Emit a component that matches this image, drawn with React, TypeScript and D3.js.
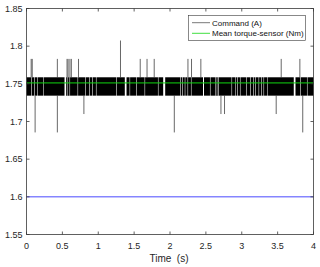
import * as d3 from 'd3';
import React from 'react';

// time axis (s) and value axis
const xTicks = [0, 0.5, 1, 1.5, 2, 2.5, 3, 3.5, 4];
const yTicks = [1.55, 1.6, 1.65, 1.7, 1.75, 1.8, 1.85];

// quantised command signal: it toggles between these two levels
const bandLow = 1.7343;
const bandHigh = 1.7587;
// short stretches where the command stays put (start, end in s)
const bandGaps: [number, number][] = [
  [0.066, 0.073], [0.107, 0.114], [0.153, 0.16], [0.236, 0.243],
  [0.53, 0.553], [0.572, 0.579], [0.6, 0.607], [0.712, 0.719],
  [0.819, 0.826], [0.875, 0.882], [0.917, 0.924], [0.968, 0.975],
  [1.251, 1.258], [1.37, 1.394], [1.437, 1.444], [1.53, 1.537],
  [1.646, 1.653], [1.832, 1.839], [1.905, 1.933], [2.143, 2.15],
  [2.171, 2.178], [2.206, 2.213], [2.245, 2.252], [2.292, 2.299],
  [2.46, 2.474], [2.557, 2.564], [2.627, 2.634], [2.652, 2.659],
  [2.673, 2.68], [2.858, 2.865], [2.906, 2.913], [2.938, 2.945],
  [2.975, 2.982], [3.063, 3.07], [3.119, 3.126], [3.161, 3.168],
  [3.189, 3.196], [3.235, 3.242], [3.272, 3.279], [3.304, 3.311],
  [3.352, 3.359], [3.725, 3.749], [3.816, 3.823], [3.909, 3.916],
];
// single-sample excursions of the command [time, value]
const spikesUp: [number, number][] = [
  [0.065, 1.7831], [0.08, 1.7831], [0.43, 1.7831], [0.565, 1.7831],
  [0.58, 1.7831], [0.605, 1.7831], [0.625, 1.7831], [0.725, 1.7831],
  [1.31, 1.8075], [1.585, 1.7831], [1.68, 1.7831], [1.78, 1.7831],
  [2.25, 1.7831], [2.3, 1.7831], [2.43, 1.7831], [3.55, 1.7831],
  [3.81, 1.7831],
];
const spikesDown: [number, number][] = [
  [0.12, 1.6855], [0.43, 1.6855], [0.8, 1.7099], [2.06, 1.6855],
  [2.71, 1.7099], [2.76, 1.7099], [3.48, 1.7099], [3.85, 1.6855],
];

const meanTorque = [[0, 1.7512], [4, 1.7512]];
const reference = [[0, 1.6], [4, 1.6]];

const legendLabels = ['Command (A)', 'Mean torque-sensor (Nm)'];

export default function App() {
  const width = 320, height = 267;
  const x = d3.scaleLinear().domain([0, 4]).range([26.5, 313.5]);
  const y = d3.scaleLinear().domain([1.55, 1.85]).range([234.5, 8.5]);
  const axisColor = '#3a3a3a';
  const font = 'Arial, "Liberation Sans", Helvetica, sans-serif';

  // band pieces between the gaps
  const edges = [0, ...bandGaps.flat(), 4];
  const pieces: [number, number][] = [];
  for (let i = 0; i < edges.length; i += 2) pieces.push([edges[i], edges[i + 1]]);
  const band = d3.area<number>()
    .x(d => x(d))
    .y0(y(bandLow))
    .y1(y(bandHigh));

  const line = d3.line<number[]>().x(d => x(d[0])).y(d => y(d[1]));

  return (
    <svg width={width} height={height} style={{ position: 'absolute', left: 0, top: 0, background: '#fff' }}>
      <rect x={0} y={0} width={width} height={height} fill="#fff" />

      {/* command */}
      {pieces.map((p, i) => (
        <path key={'b' + i} d={band(p) || ''} fill="#000" />
      ))}
      {spikesUp.map((s, i) => (
        <path key={'u' + i} d={line([[s[0], bandHigh], s]) || ''} stroke="#000" strokeWidth={0.6} fill="none" />
      ))}
      {spikesDown.map((s, i) => (
        <path key={'d' + i} d={line([[s[0], bandLow], s]) || ''} stroke="#000" strokeWidth={0.6} fill="none" />
      ))}

      {/* mean torque and reference */}
      <path d={line(meanTorque) || ''} stroke="#10d810" strokeWidth={1} fill="none" />
      <path d={line(reference) || ''} stroke="#4a4aff" strokeWidth={1} fill="none" />

      {/* axes box */}
      <rect x={26.5} y={8.5} width={287} height={226} fill="none" stroke={axisColor} strokeWidth={0.8} />
      {xTicks.map(t => (
        <g key={'x' + t}>
          <line x1={x(t)} x2={x(t)} y1={234.5} y2={231.5} stroke={axisColor} strokeWidth={0.8} />
          <line x1={x(t)} x2={x(t)} y1={8.5} y2={11.5} stroke={axisColor} strokeWidth={0.8} />
          <text x={x(t)} y={248.5} textAnchor="middle" fontSize={9} fontFamily={font} fill="#262626">{t}</text>
        </g>
      ))}
      {yTicks.map(t => (
        <g key={'y' + t}>
          <line x1={26.5} x2={29.5} y1={y(t)} y2={y(t)} stroke={axisColor} strokeWidth={0.8} />
          <line x1={313.5} x2={310.5} y1={y(t)} y2={y(t)} stroke={axisColor} strokeWidth={0.8} />
          <text x={22.5} y={y(t) + 3.2} textAnchor="end" fontSize={9} fontFamily={font} fill="#262626">{t}</text>
        </g>
      ))}
      <text x={169} y={261.5} textAnchor="middle" fontSize={10} fontFamily={font} fill="#262626" style={{ whiteSpace: 'pre' }}>{'Time  (s)'}</text>

      {/* legend */}
      <rect x={188.5} y={15.5} width={117} height={25} fill="#fff" stroke={axisColor} strokeWidth={0.6} />
      <line x1={192} x2={210} y1={22.7} y2={22.7} stroke="#555" strokeWidth={0.8} />
      <line x1={192} x2={210} y1={33.3} y2={33.3} stroke="#10d810" strokeWidth={0.8} />
      {legendLabels.map((l, i) => (
        <text key={l} x={212} y={25.6 + i * 10.6} fontSize={8} fontFamily={font} fill="#111">{l}</text>
      ))}
    </svg>
  );
}
